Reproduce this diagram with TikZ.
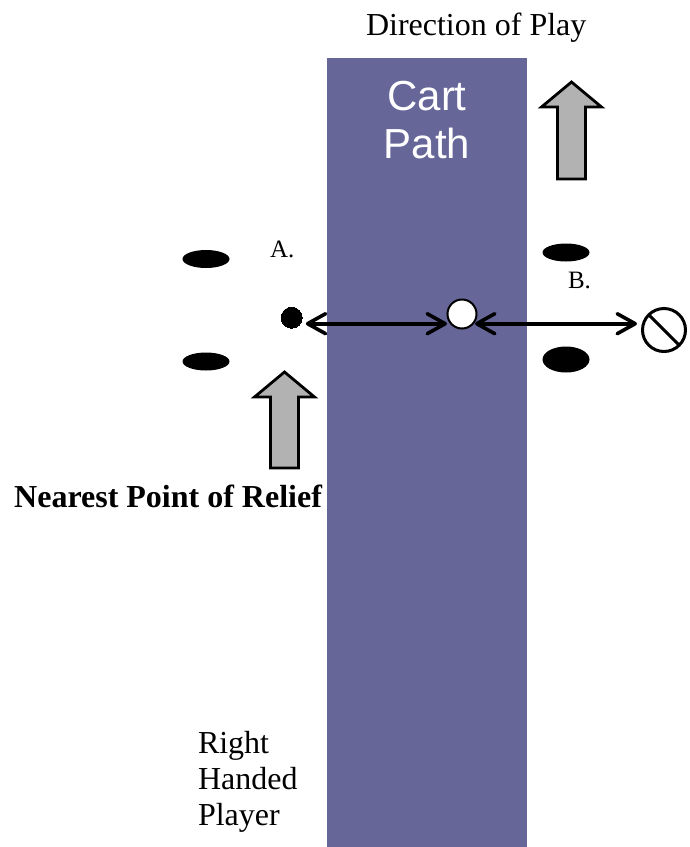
\documentclass[tikz,border=0pt]{standalone}
\usepackage{fontspec}
\setmainfont{Liberation Serif}
\newfontfamily\cartfont{Liberation Sans}
\usetikzlibrary{arrows.meta, shapes.geometric}
\definecolor{pathblue}{HTML}{666699}
\definecolor{arrowgray}{HTML}{B2B2B2}
\tikzset{
    bigtext/.style={anchor=base west, inner sep=0, outer sep=0, font=\fontsize{32}{37}\selectfont},
    smalltext/.style={anchor=base west, inner sep=0, outer sep=0, font=\fontsize{25}{29}\selectfont},
    ballmark/.style={circle, draw=black, inner sep=0, outer sep=0},
    divot/.style={ellipse, fill=black, inner sep=0, outer sep=0, minimum width=47, minimum height=18},
    uparrow/.style={draw=black, line width=2.8, fill=arrowgray, miter limit=10},
    relief/.style={line width=3.6, {Straight Barb[length=18,width=20,round]}-{Straight Barb[length=18,width=20,round]}}
}
\begin{document}
\begin{tikzpicture}[x=1pt, y=-1pt]
    \useasboundingbox (0, 0) rectangle (689, 847);

    \fill[pathblue] (327, 58) rectangle (527, 847);
    \node[font=\cartfont\fontsize{42}{48}\selectfont, text=white, align=center, inner sep=0] (cartpath) at (427, 120) {Cart\\Path};

    \node[bigtext] (direction) at (366, 35) {Direction of Play};
    \draw[uparrow] (571.5, 82) -- (601.5, 107) -- (585.5, 107) -- (585.5, 179) -- (557.5, 179) -- (557.5, 107) -- (541.5, 107) -- cycle;
    \draw[uparrow] (284.5, 372) -- (314.5, 397) -- (298.5, 397) -- (298.5, 468) -- (270.5, 468) -- (270.5, 397) -- (254.5, 397) -- cycle;

    \node[divot] (divotA) at (206, 259) {};
    \node[divot] (divotB) at (206, 361.5) {};
    \node[divot] (divotC) at (566, 252.5) {};
    \node[divot, minimum height=26] (divotD) at (566, 359.5) {};

    \node[smalltext] (labelA) at (270, 257.5) {A.};
    \node[smalltext] (labelB) at (568, 288) {B.};

    \node[ballmark, fill=black, minimum size=21, line width=0] (ballA) at (291.7, 317.7) {};
    \node[ballmark, fill=white, minimum size=29, line width=2] (ballO) at (462, 314) {};
    \node[ballmark, minimum size=43, line width=3] (noplay) at (664, 330) {};
    \draw[line width=3] (noplay.north west) -- (noplay.south east);

    \draw[relief] ([xshift=3.6, yshift=-6]ballA.east) -- ([xshift=-0.5, yshift=-9.7]ballO.west);
    \draw[relief] ([xshift=-1.5, yshift=-9.7]ballO.east) -- ([xshift=-5.5, yshift=6.3]noplay.west);

    \node[anchor=base west, inner sep=0, font=\bfseries\fontsize{32}{37}\selectfont] (nearest) at (14, 507) {Nearest Point of Relief};

    \node[bigtext] (right) at (198, 753) {Right};
    \node[bigtext] (handed) at (198, 789) {Handed};
    \node[bigtext] (player) at (198, 825.5) {Player};
\end{tikzpicture}
\end{document}
